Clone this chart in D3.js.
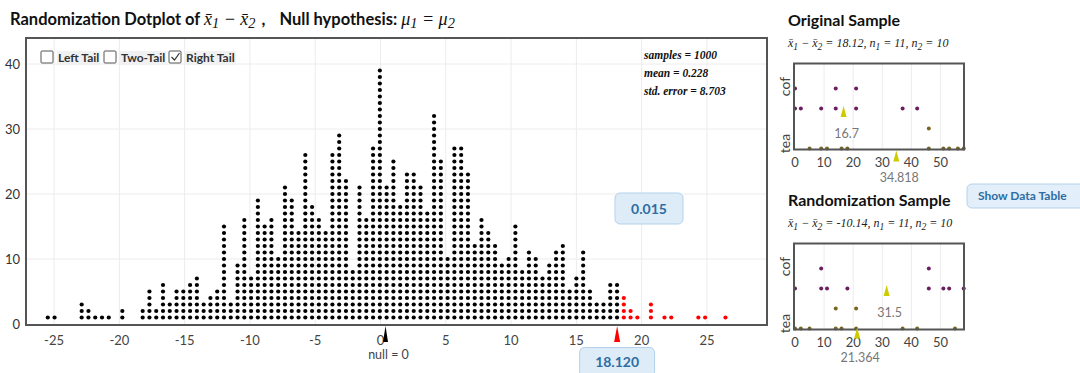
<!DOCTYPE html>
<html lang="en">
<head>
<meta charset="utf-8">
<title>Randomization Dotplot</title>
<script src="https://cdn.jsdelivr.net/npm/d3@7"></script>
<style>
  body { margin: 0; background: #fff; }
  svg text { font-family: Lato, "Open Sans", sans-serif; }
</style>
</head>
<body>
<script>
// ---- dotplot data: dots per column, first column index is firstCol
var firstCol = -49;
var colOrigin = -0.05, colWidth = 0.519;
var colCounts = [1,1,0,0,0,3,2,1,1,1,0,2,0,0,2,5,2,6,3,5,5,6,7,3,4,5,
  15,3,9,16,7,19,15,16,10,21,19,14,26,18,16,14,
  26,29,22,8,21,16,27,39,
  21,25,18,23,23,21,17,32,25,10,27,27,23,
  12,16,14,12,9,10,15,8,11,10,7,9,11,12,5,7,11,5,3,3,6,6,
  4,2,1,0,3,0,1,1,0,0,0,1,1,0,0,1];
var observed = 18.12, nullValue = 0;
var xTicks = [-25,-20,-15,-10,-5,0,5,10,15,20,25];
var yTicks = [0,10,20,30,40];
var statLines = ["samples = 1000", "mean = 0.228", "std. error = 8.703"];
var tailLabels = ["Left Tail", "Two-Tail", "Right Tail"];
var tailChecked = [false, false, true];
var pValue = "0.015";

// ---- small sample plots
var groups = ["cof", "tea"];
var smallTicks = [0,10,20,30,40,50];
var origCof = [0,0,2,9,14,14,21,21,37,42];
var origTea = [5,9,11,16,18,46,46,51,53,56,58];
var origMeans = [16.7, 34.818];
var origMeanText = ["16.7", "34.818"];
var randCof = [0,9,9,11,18,46,46,51,53,58];
var randTea = [0,2,5,14,14,16,21,21,37,42,55];
var randMeans = [31.5, 21.364];
var randMeanText = ["31.5", "21.364"];

var W = 1080, H = 373;
var SERIF = "'Liberation Serif', 'DejaVu Serif', serif";
var svg = d3.select("body").append("svg")
    .attr("width", W).attr("height", H);

// writes a mix of bold sans, italic serif and subscript pieces
function richText(t, parts, mathSize) {
  var shifted = false;
  parts.forEach(function(p) {
    var ts = t.append("tspan").text(p[0]);
    if (p[1] == "m" || p[1] == "s") {
      ts.style("font-family", SERIF).style("font-style", "italic").style("font-weight", "normal");
      if (mathSize) ts.attr("font-size", mathSize);
    }
    if (p[1] == "s") {
      ts.attr("font-size", mathSize ? mathSize * 0.8 : "0.8em").attr("dy", shifted ? 0 : 3);
      shifted = true;
    } else if (shifted) {
      ts.attr("dy", -3);
      shifted = false;
    }
    if (p[2]) ts.attr("dx", p[2]);
  });
}

// ---- main dotplot
var x = d3.scaleLinear().domain([-27.15, 29.6]).range([26, 767]);
var y = d3.scaleLinear().domain([0, 44]).range([324, 38]);

var title = svg.append("text").attr("x", 10).attr("y", 25)
  .attr("font-size", 16.5).attr("font-weight", "bold").attr("fill", "#111");
richText(title, [["Randomization Dotplot of ", "b"], ["x\u0304", "m"], ["1", "s"], [" \u2212 ", "m"],
  ["x\u0304", "m"], ["2", "s"], [" ,", "b", 2], ["Null hypothesis: ", "b", 14],
  ["\u03bc", "m"], ["1", "s"], [" = ", "m"], ["\u03bc", "m"], ["2", "s"]], 18);

svg.append("g").selectAll("line.gx").data(xTicks).enter().append("line")
  .attr("x1", d => x(d)).attr("x2", d => x(d)).attr("y1", y(44)).attr("y2", y(0))
  .attr("stroke", "#ececec");
svg.append("g").selectAll("line.gy").data(yTicks.slice(1)).enter().append("line")
  .attr("x1", x.range()[0]).attr("x2", x.range()[1]).attr("y1", d => y(d)).attr("y2", d => y(d))
  .attr("stroke", "#ececec");

svg.append("g").selectAll("text").data(yTicks).enter().append("text")
  .attr("x", 20).attr("y", d => y(d) + 5).attr("text-anchor", "end")
  .attr("font-size", 13).attr("fill", "#333").text(d => d);
svg.append("g").selectAll("text").data(xTicks).enter().append("text")
  .attr("x", d => x(d)).attr("y", 345).attr("text-anchor", "middle")
  .attr("font-size", 13).attr("fill", "#444").text(d => d);

var dots = [];
colCounts.forEach(function(c, i) {
  var v = colOrigin + (firstCol + i) * colWidth;
  for (var j = 1; j <= c; j++) dots.push({ v: v, n: j });
});
svg.append("g").selectAll("circle").data(dots).enter().append("circle")
  .attr("cx", d => x(d.v)).attr("cy", d => y(d.n)).attr("r", 2.1)
  .attr("fill", d => d.v >= observed ? "#ff0000" : "#000");

svg.append("rect").attr("x", 26).attr("y", 38).attr("width", 741).attr("height", 287)
  .attr("fill", "none").attr("stroke", "#555").attr("stroke-width", 2);

// tail checkboxes
var cb = svg.append("g");
var cbX = [41, 104, 169];
tailLabels.forEach(function(lab, i) {
  var bx = cbX[i];
  var t = cb.append("text").attr("x", bx + 17).attr("y", 62)
    .attr("font-size", 12).attr("font-weight", "bold").attr("fill", "#333").text(lab);
  var bb = t.node().getBBox();
  cb.insert("rect", "text").attr("x", bb.x - 1).attr("y", 51).attr("width", bb.width + 2).attr("height", 14)
    .attr("fill", "#f1f1f1");
  cb.append("rect").attr("x", bx).attr("y", 51).attr("width", 12).attr("height", 12)
    .attr("fill", "#fff").attr("stroke", "#555").attr("rx", 1);
  if (tailChecked[i])
    cb.append("path").attr("d", "M" + (bx + 2.5) + ",57 l3,3 l5,-7")
      .attr("fill", "none").attr("stroke", "#333").attr("stroke-width", 1.2);
});

// stats
svg.append("g").selectAll("text").data(statLines).enter().append("text")
  .attr("x", 644).attr("y", (d, i) => 59 + i * 18)
  .style("font-family", SERIF).style("font-style", "italic").style("font-weight", "bold")
  .attr("font-size", 11.5).attr("fill", "#111").text(d => d);

// markers
function spike(g, cx, top, h, w, color) {
  g.append("path").attr("d", "M" + cx + "," + top + "L" + (cx - w / 2) + "," + (top + h) + "L" + (cx + w / 2) + "," + (top + h) + "Z")
    .attr("fill", color);
}
spike(svg, x(nullValue) + 5, 326, 16, 5, "#000");
svg.append("text").attr("x", x(nullValue) + 8).attr("y", 359).attr("text-anchor", "middle")
  .attr("font-size", 12.5).attr("fill", "#444").text("null = " + nullValue);
spike(svg, x(observed), 326, 16, 6, "#ff0000");

function infoBox(cx, cy, w, h, txt) {
  svg.append("rect").attr("x", cx - w / 2).attr("y", cy - h / 2).attr("width", w).attr("height", h)
    .attr("rx", 5).attr("fill", "#deecf8").attr("stroke", "#b3d1ec");
  svg.append("text").attr("x", cx).attr("y", cy + 5).attr("text-anchor", "middle")
    .attr("font-size", 14).attr("font-weight", "bold").attr("fill", "#2d6da3").text(txt);
}
infoBox(649, 208.5, 68, 31, pValue);
infoBox(x(observed), 362, 75, 29, observed.toFixed(3));

// ---- small plots
var sx = d3.scaleLinear().domain([-0.35, 58.1]).range([794, 964]);
var rowBase = d3.scaleOrdinal().domain(groups).range([45, 85]);
var labelOff = d3.scaleOrdinal().domain(groups).range([23, 80]);
var colors = d3.scaleOrdinal().domain(groups).range(["#6b1e5f", "#776520"]);

function smallPlot(top, titleText, sub, cof, tea, means, meanText, tipShift, labShift) {
  var g = svg.append("g");
  g.append("text").attr("x", 788).attr("y", top - 38).attr("font-size", 16).attr("font-weight", "bold")
    .attr("fill", "#111").text(titleText);
  var st = g.append("text").attr("x", 788).attr("y", top - 17).attr("font-size", 12).attr("fill", "#222");
  richText(st, sub);

  g.selectAll("line").data(smallTicks.slice(1)).enter().append("line")
    .attr("x1", d => sx(d)).attr("x2", d => sx(d)).attr("y1", top).attr("y2", top + 86)
    .attr("stroke", "#ececec");
  g.append("g").selectAll("text").data(smallTicks).enter().append("text")
    .attr("x", d => sx(d)).attr("y", top + 103.5).attr("text-anchor", "middle")
    .attr("font-size", 13).attr("fill", "#444").text(d => d);
  groups.forEach(function(grp) {
    g.append("text").attr("transform", "translate(790," + (top + labelOff(grp)) + ") rotate(-90)")
      .attr("text-anchor", "middle").attr("font-size", 14).attr("fill", "#444").text(grp);
  });

  var pts = [];
  [cof, tea].forEach(function(vals, gi) {
    var seen = {};
    vals.forEach(function(v) {
      seen[v] = (seen[v] || 0) + 1;
      pts.push({ g: groups[gi], v: v, k: seen[v] - 1 });
    });
  });
  g.append("g").selectAll("circle").data(pts).enter().append("circle")
    .attr("cx", d => sx(d.v)).attr("cy", d => top + rowBase(d.g) - d.k * 20).attr("r", 2)
    .attr("fill", d => colors(d.g));

  g.append("rect").attr("x", 794).attr("y", top).attr("width", 170).attr("height", 86)
    .attr("fill", "none").attr("stroke", "#555").attr("stroke-width", 2);

  means.forEach(function(m, i) {
    var base = top + rowBase(groups[i]) + tipShift[i];
    spike(g, sx(m), base, 11, 6, "#cccc00");
    g.append("text").attr("x", sx(m) + 3).attr("y", base + labShift[i]).attr("text-anchor", "middle")
      .attr("font-size", 12.5).attr("fill", "#777").text(meanText[i]);
  });
}

smallPlot(63.5, "Original Sample",
  [["x\u0304", "m"], ["1", "s"], [" \u2212 ", "m"], ["x\u0304", "m"], ["2", "s"], [" = 18.12, n", "m"], ["1", "s"],
   [" = 11, n", "m"], ["2", "s"], [" = 10", "m"]], origCof, origTea, origMeans, origMeanText, [-2.5, 2], [31.5, 31]);
smallPlot(243.5, "Randomization Sample",
  [["x\u0304", "m"], ["1", "s"], [" \u2212 ", "m"], ["x\u0304", "m"], ["2", "s"], [" = -10.14, n", "m"], ["1", "s"],
   [" = 11, n", "m"], ["2", "s"], [" = 10", "m"]], randCof, randTea, randMeans, randMeanText, [-3.5, -1], [31.5, 34.5]);

// button
svg.append("rect").attr("x", 967).attr("y", 184).attr("width", 120).attr("height", 24).attr("rx", 5)
  .attr("fill", "#e2eef9").attr("stroke", "#b5d2ec");
svg.append("text").attr("x", 978).attr("y", 200).attr("font-size", 12).attr("font-weight", "bold")
  .attr("fill", "#2d6da3").text("Show Data Table");
</script>
</body>
</html>
